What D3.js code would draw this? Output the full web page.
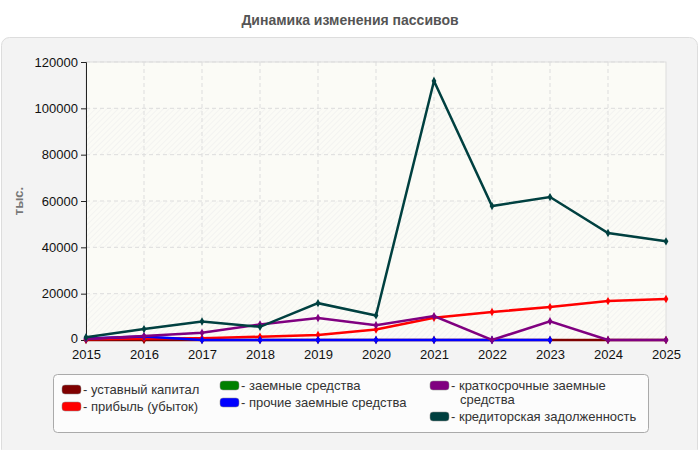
<!DOCTYPE html>
<meta charset="utf-8">
<style>
body { margin: 0; background: #fff; font-family: "Liberation Sans", Arial, sans-serif; }
svg text { font-family: "Liberation Sans", Arial, sans-serif; }
.grid line { stroke: #ddd; stroke-dasharray: 4,3; }
.axis text { font-size: 13px; fill: #111; }
.legend text { font-size: 13px; fill: #333; }
</style>
<body>
<svg width="700" height="450"></svg>
<script src="https://cdn.jsdelivr.net/npm/d3@7"></script>
<script>

var years = [2015, 2016, 2017, 2018, 2019, 2020, 2021, 2022, 2023, 2024, 2025];
var yTicks = [0, 20000, 40000, 60000, 80000, 100000, 120000];

var ustavnyi   = [0, 0, 0, 0, 0, 0, 0, 0, 0, 0, 0];
var zaemnye    = [null, null, null, null, null, null, null, null, null, null, null];
var pribyl     = [300, 700, 800, 1400, 2200, 4500, 9600, 12100, 14200, 16800, 17700];
var prochie    = [700, 1500, 0, 0, 0, 0, 0, 0, 0, null, null];
var kratkosr   = [400, 1700, 3100, 6700, 9500, 6400, 10300, 0, 8100, 0, 0];
var kreditor   = [1200, 4700, 8000, 5700, 15900, 10600, 111800, 57800, 61700, 46200, 42600];

var series = [
  {name: "- уставный капитал", color: "#7f0000", values: ustavnyi},
  {name: "- прибыль (убыток)", color: "#ff0000", values: pribyl},
  {name: "- заемные средства", color: "#008000", values: zaemnye},
  {name: "- прочие заемные средства", color: "#0000ff", values: prochie},
  {name: ["- краткосрочные заемные", "средства"], color: "#800080", values: kratkosr},
  {name: "- кредиторская задолженность", color: "#004040", values: kreditor}
];

var svg = d3.select("svg");

svg.append("text")
    .attr("x", 350).attr("y", 25)
    .attr("text-anchor", "middle")
    .style("font-size", "14px").style("font-weight", "bold").style("fill", "#555")
    .text("Динамика изменения пассивов");

svg.append("rect")
    .attr("x", 1.5).attr("y", 37.5).attr("width", 696).attr("height", 420)
    .attr("rx", 8)
    .attr("fill", "#f3f3f3").attr("stroke", "#ddd");

var x = d3.scaleLinear().domain([2015, 2025]).range([86, 666]);
var y = d3.scaleLinear().domain([0, 120000]).range([340, 62]);

// hatch pattern for plot background
var defs = svg.append("defs");
var pat = defs.append("pattern")
    .attr("id", "hatch").attr("patternUnits", "userSpaceOnUse")
    .attr("width", 4).attr("height", 4)
    .attr("patternTransform", "rotate(45)");
pat.append("line").attr("x1", 0).attr("y1", 0).attr("x2", 0).attr("y2", 4)
    .attr("stroke", "#ebebeb").attr("stroke-width", 1);

svg.append("rect")
    .attr("x", 86).attr("y", 62).attr("width", 580).attr("height", 278)
    .attr("fill", "#fbfbf6").attr("stroke", "#ddd");

// alternating hatched bands
var bands = [[0, 20000], [40000, 60000], [80000, 100000]];
svg.selectAll(".band").data(bands).enter().append("rect")
    .attr("x", 86).attr("width", 580)
    .attr("y", function(d) { return y(d[1]); })
    .attr("height", function(d) { return y(d[0]) - y(d[1]); })
    .attr("fill", "url(#hatch)");

svg.append("g").attr("class", "grid")
  .selectAll("line").data(yTicks.slice(1)).enter().append("line")
    .attr("x1", 86).attr("x2", 666)
    .attr("y1", function(d) { return y(d); }).attr("y2", function(d) { return y(d); });

svg.append("g").attr("class", "grid")
  .selectAll("line").data(years.slice(1, -1)).enter().append("line")
    .attr("y1", 62).attr("y2", 340)
    .attr("x1", function(d) { return x(d); }).attr("x2", function(d) { return x(d); });

var yAxis = svg.append("g").attr("class", "axis")
    .attr("transform", "translate(86,0)")
    .call(d3.axisLeft(y).tickValues(yTicks).tickSize(5).tickPadding(3).tickFormat(d3.format("d")));
yAxis.selectAll("line").attr("stroke", "#222");
yAxis.select(".domain").attr("stroke", "#222");
yAxis.selectAll(".tick text").filter(function(d) { return d === 0; }).attr("dy", "0.2em");

var xAxis = svg.append("g").attr("class", "axis")
    .attr("transform", "translate(0,340)")
    .call(d3.axisBottom(x).tickValues(years).tickSize(0).tickPadding(10).tickFormat(d3.format("d")));
xAxis.select(".domain").attr("stroke", "#ccc");

svg.append("text")
    .attr("transform", "translate(23,201) rotate(-90)")
    .attr("text-anchor", "middle")
    .style("font-size", "13px").style("font-weight", "bold").style("fill", "#777")
    .text("тыс.");

var line = d3.line()
    .defined(function(d) { return d != null; })
    .x(function(d, i) { return x(years[i]); })
    .y(function(d) { return y(d); });

series.forEach(function(s) {
  var g = svg.append("g");
  g.append("path")
      .datum(s.values)
      .attr("fill", "none")
      .attr("stroke", s.color)
      .attr("stroke-width", 2.5)
      .attr("d", line);
  g.selectAll("path.pt")
    .data(s.values.map(function(v, i) { return {v: v, yr: years[i]}; }).filter(function(d) { return d.v != null; }))
    .enter().append("path")
      .attr("class", "pt")
      .attr("d", d3.symbol().type(d3.symbolDiamond).size(20))
      .attr("transform", function(d) { return "translate(" + x(d.yr) + "," + y(d.v) + ")"; })
      .attr("fill", s.color);
});

// legend
svg.append("rect")
    .attr("x", 53.5).attr("y", 374.5).attr("width", 595).attr("height", 58)
    .attr("rx", 4)
    .attr("fill", "#fcfcfc").attr("stroke", "#aaa");

var legPos = [[62, 390], [62, 407], [220, 386], [220, 403], [430, 386], [430, 417]];
var legend = svg.selectAll(".legend").data(series).enter().append("g")
    .attr("class", "legend")
    .attr("transform", function(d, i) { return "translate(" + legPos[i][0] + "," + legPos[i][1] + ")"; });

legend.append("rect")
    .attr("x", 0).attr("y", -5).attr("width", 19).attr("height", 9)
    .attr("rx", 3)
    .attr("fill", function(d) { return d.color; })
    .attr("stroke", "#888").attr("stroke-width", 0.5);

legend.append("text")
    .attr("x", 21).attr("y", 4)
    .each(function(d) {
      var t = d3.select(this);
      var lines = Array.isArray(d.name) ? d.name : [d.name];
      lines.forEach(function(l, i) {
        t.append("tspan").attr("x", i ? 30 : 21).attr("dy", i ? 14 : 0).text(l);
      });
    });

</script>
</body>
